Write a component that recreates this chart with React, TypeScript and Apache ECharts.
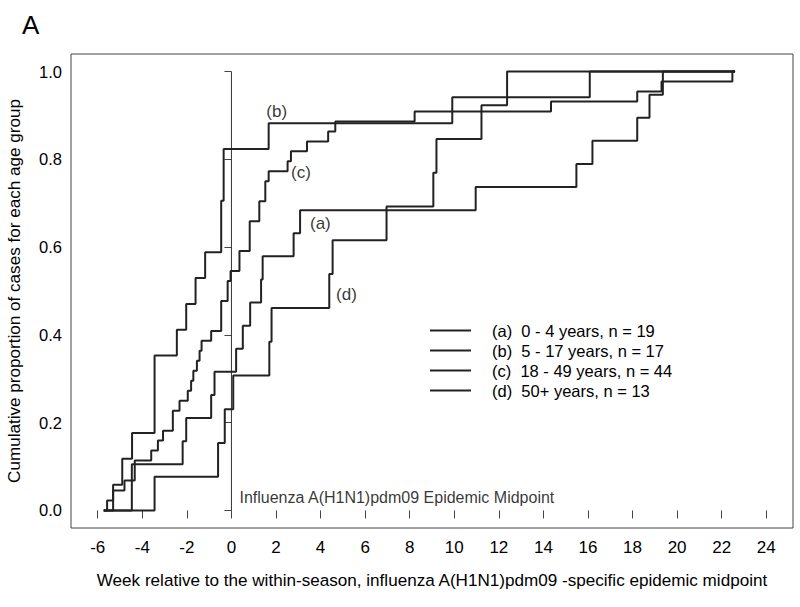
import React, { useEffect, useRef } from "react";
import * as echarts from "echarts";

const FONT = "Liberation Sans, Arial, sans-serif";
const INK = "#000";

const xTicks = [-6, -4, -2, 0, 2, 4, 6, 8, 10, 12, 14, 16, 18, 20, 22, 24];
const yTicks = [0, 0.2, 0.4, 0.6, 0.8, 1.0];

const groupNames = [
  "(a)  0 - 4 years, n = 19",
  "(b)  5 - 17 years, n = 17",
  "(c)  18 - 49 years, n = 44",
  "(d)  50+ years, n = 13",
];
const groupTags = ["(a)", "(b)", "(c)", "(d)"];
const groupSizes = [19, 17, 44, 13];

// week at which each cumulative count is reached
const weeksA = [-4.47, -2.19, -2.03, -0.91, -0.76, 0.21, 0.51, 0.84, 1.33, 1.4, 2.79, 3.08, 10.96, 15.48, 16.2, 18.21, 18.76, 19.36];
const countsA = [2, 3, 4, 5, 6, 7, 8, 9, 10, 11, 12, 13, 14, 15, 16, 17, 18, 19];

const weeksB = [-5.31, -4.9, -4.46, -3.45, -2.45, -2.03, -1.61, -1.18, -0.46, -0.35, 1.67, 9.91, 16.08];
const countsB = [1, 2, 3, 6, 7, 8, 9, 10, 12, 14, 15, 16, 17];

const weeksC = [-5.58, -5.31, -4.8, -4.34, -3.6, -3.3, -3.07, -2.63, -2.33, -1.96, -1.81, -1.71, -1.55, -1.43, -1.34, -0.91, -0.46, -0.17, -0.04, 0.36, 0.82, 1.25, 1.52, 1.67, 2.52, 2.67, 3.39, 4.34, 4.66, 8.22, 14.34, 18.21, 19.3, 22.48];
const countsC = [1, 2, 3, 5, 6, 7, 8, 10, 11, 12, 13, 14, 15, 16, 17, 18, 21, 23, 24, 26, 29, 31, 33, 34, 35, 36, 37, 38, 39, 40, 41, 42, 43, 44];

const weeksD = [-3.45, -0.6, -0.3, 0.08, 1.7, 1.8, 4.39, 4.54, 6.96, 9.06, 9.2, 11.22, 12.37];
const countsD = [1, 2, 3, 4, 5, 6, 7, 8, 9, 10, 11, 12, 13];

const curveStart = -5.73;
const curveEnd = 22.6;
const midpointWeek = 0;
const tagPositions = [
  [3.99, 0.653],
  [2.03, 0.909],
  [3.12, 0.769],
  [5.16, 0.491],
];
const midpointText = "Influenza A(H1N1)pdm09 Epidemic Midpoint";
const midpointTextPos = [0.36, 0.03];

const xTitle = "Week relative to the within-season, influenza A(H1N1)pdm09 -specific epidemic midpoint";
const yTitle = "Cumulative proportion of cases for each age group";
const panelLetter = "A";

function buildCurve(weeks: number[], counts: number[], n: number) {
  const pts: number[][] = [[curveStart, 0]];
  weeks.forEach((w, i) => pts.push([w, counts[i] / n]));
  pts.push([curveEnd, 1]);
  return pts;
}

export default function App() {
  const ref = useRef<HTMLDivElement>(null);
  useEffect(() => {
    if (!ref.current) return;
    const chart = echarts.init(ref.current, null, { renderer: "svg" });
    const curves = [
      buildCurve(weeksA, countsA, groupSizes[0]),
      buildCurve(weeksB, countsB, groupSizes[1]),
      buildCurve(weeksC, countsC, groupSizes[2]),
      buildCurve(weeksD, countsD, groupSizes[3]),
    ];
    const option: any = {
      animation: false,
      backgroundColor: "#fff",
      textStyle: { fontFamily: FONT },
      title: {
        text: panelLetter,
        left: 17,
        top: 7,
        textStyle: { fontFamily: FONT, fontSize: 26, fontWeight: "normal", color: INK },
      },
      grid: {
        left: 71,
        right: 7,
        top: 54,
        bottom: 79,
        outerBoundsMode: "none",
        containLabel: false,
        show: true,
        borderColor: "#444",
        borderWidth: 1,
        backgroundColor: "transparent",
      },
      legend: {
        data: groupNames,
        orient: "vertical",
        left: 430,
        top: 322,
        padding: 0,
        itemGap: 3,
        itemWidth: 41,
        itemHeight: 2,
        icon: "rect",
        selectedMode: false,
        textStyle: { fontFamily: FONT, fontSize: 16.5, color: INK, lineHeight: 16, padding: [0, 0, 0, 16] },
      },
      xAxis: {
        type: "value",
        min: -7.2,
        max: 25.2,
        splitLine: { show: false },
        axisLine: { show: false },
        axisTick: { show: true, customValues: xTicks, length: 8, lineStyle: { color: "#444" } },
        axisLabel: { customValues: xTicks, margin: 11, fontSize: 17, color: INK, fontFamily: FONT },
        name: xTitle,
        nameLocation: "middle",
        nameGap: 44,
        nameTextStyle: { fontSize: 17.1, color: INK, fontFamily: FONT },
      },
      yAxis: {
        type: "value",
        min: -0.04,
        max: 1.04,
        splitLine: { show: false },
        axisLine: { show: false },
        axisTick: { show: true, customValues: yTicks, length: 7, lineStyle: { color: "#444" } },
        axisLabel: {
          customValues: yTicks,
          margin: 9,
          fontSize: 16.5,
          color: INK,
          fontFamily: FONT,
          formatter: (v: number) => v.toFixed(1),
        },
        name: yTitle,
        nameLocation: "middle",
        nameGap: 48,
        nameRotate: 90,
        nameTextStyle: { fontSize: 17.1, color: INK, fontFamily: FONT },
      },
      series: [
        ...curves.map((pts, i) => ({
          name: groupNames[i],
          type: "line",
          step: "end",
          data: pts,
          showSymbol: false,
          symbol: "none",
          color: "#222",
          lineStyle: { color: "#222", width: 2 },
          z: 3,
        })),
        {
          name: "midpoint",
          type: "line",
          data: [
            [midpointWeek, 0],
            [midpointWeek, 1],
          ],
          showSymbol: false,
          symbol: "none",
          lineStyle: { color: "#333", width: 1 },
          z: 2,
        },
        {
          name: "tags",
          type: "scatter",
          symbolSize: 0,
          itemStyle: { color: "#fff" },
          data: tagPositions.map((p, i) => ({ value: p, name: groupTags[i] })),
          label: {
            show: true,
            position: "inside",
            formatter: (p: any) => p.name,
            fontSize: 17,
            color: INK,
            textBorderWidth: 0,
            fontFamily: FONT,
          },
        },
        {
          name: "midtext",
          type: "scatter",
          symbolSize: 0,
          itemStyle: { color: "#fff" },
          data: [{ value: midpointTextPos, name: midpointText }],
          label: {
            show: true,
            position: "right",
            distance: 0,
            formatter: (p: any) => p.name,
            fontSize: 16,
            color: INK,
            textBorderWidth: 0,
            fontFamily: FONT,
          },
        },
      ],
    };
    chart.setOption(option);
    return () => chart.dispose();
  }, []);
  return <div ref={ref} style={{ position: "fixed", left: 0, top: 0, width: 800, height: 607 }} />;
}
